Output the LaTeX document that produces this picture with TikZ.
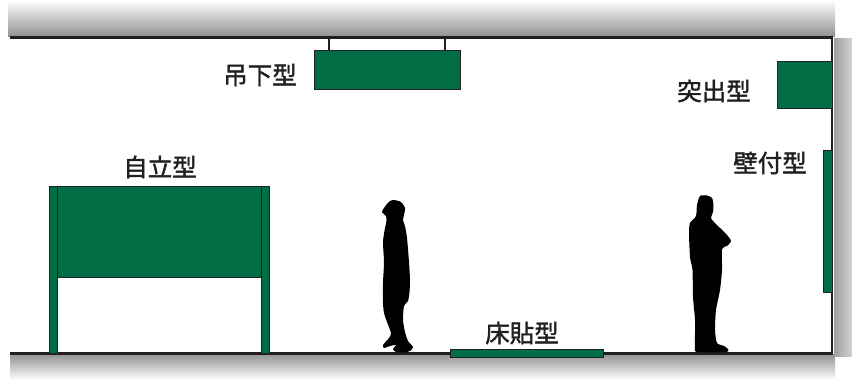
\documentclass[tikz,border=0pt]{standalone}
\usepackage{fontspec}
\newfontfamily\cjk[FakeBold=1.6]{Noto Sans CJK JP}
\definecolor{signgreen}{HTML}{006D45}
\definecolor{ink}{HTML}{231F20}
\begin{document}
\begin{tikzpicture}[x=1pt,y=-1pt,
  sign/.style={draw=ink, line width=0.8pt, fill=signgreen, inner sep=0pt, outer sep=0pt, anchor=north west},
  tag/.style={font=\cjk\fontsize{24.5}{24.5}\selectfont, text=ink, inner sep=0pt},
  wire/.style={draw=ink, line width=1.3pt},
  structure/.style={draw=ink, line width=3pt},
  person/.style={fill=black}]
\useasboundingbox (0,0) rectangle (852,380);

% shading of ceiling, floor and side wall
\shade[top color=white, bottom color=gray!85] (8,0) rectangle (835,36);
\shade[top color=gray!85, bottom color=white] (10,354) rectangle (835,380);
\shade[left color=gray!75, right color=gray!35] (834,38) rectangle (852,356);

% room outline
\coordinate (ceilL) at (10,37);
\coordinate (ceilR) at (833,37);
\coordinate (floorL) at (10,353);
\coordinate (floorR) at (833,353);
\draw[structure] (ceilL) -- (ceilR);
\draw[structure, line width=2pt] ([xshift=-1pt]ceilR) -- ([xshift=-1pt]floorR);
\draw[structure] (floorL) -- (floorR);

% hanging sign
\node[sign, minimum width=146pt, minimum height=39pt] (hang) at (314,50) {};
\coordinate (w1) at (329,37);
\coordinate (w2) at (445,37);
\draw[wire] (w1) -- (w1 |- hang.north);
\draw[wire] (w2) -- (w2 |- hang.north);
\node[tag] (hangtxt) at (260,75) {吊下型};

% projecting sign
\node[sign, minimum width=55pt, minimum height=47pt] (proj) at (777,61) {};
\node[tag] (projtxt) at (714,91) {突出型};

% wall-mounted sign
\node[sign, minimum width=9pt, minimum height=142pt] (wall) at (823,150) {};
\node[tag] (walltxt) at (770,163) {壁付型};

% free-standing sign
\node[sign, minimum width=8pt, minimum height=167pt] (postL) at (49,186) {};
\node[sign, minimum width=8pt, minimum height=167pt] (postR) at (261,186) {};
\node[sign, minimum width=204pt, minimum height=91pt] (panel) at (57,186) {};
\node[tag] (standtxt) at (160,167) {自立型};

% floor sign
\node[sign, minimum width=153pt, minimum height=8pt] (floorsign) at (450,349) {};
\node[tag] (floortxt) at (522,333) {床貼型};

% walking person looking up
\fill[person] plot[smooth cycle, tension=0.4] coordinates {
  (394,200) (401,202) (405,208) (404,215) (403,220) (405,226) (407,238)
  (409,262) (410,280) (409.5,292) (408,301) (404,306) (403,320) (405,332)
  (408,341) (413,347) (410,351) (404,352.5) (396,352) (393,349) (396,345)
  (390,346) (384,348) (383,345) (389,338) (391,333) (387,322) (384,313)
  (383,303) (383,283) (384,262) (383,242) (385,228) (386.5,221) (386,216)
  (382,212) (384,208) (387,204) (390,201)};

% standing person with folded arms
\fill[person] plot[smooth cycle, tension=0.4] coordinates {
  (700,196) (707,195.5) (712,198) (713.5,205) (713,212) (711,218) (714,222)
  (720,228) (727,235) (731,241) (727,246) (722,249) (722,270) (720,290)
  (716,310) (715,330) (717,343) (724,346) (728,349) (726,352) (697,352)
  (695,346) (695,320) (693,297) (692.5,270) (690,257) (689,233) (690,223)
  (696,216) (697,205)};
\end{tikzpicture}
\end{document}
